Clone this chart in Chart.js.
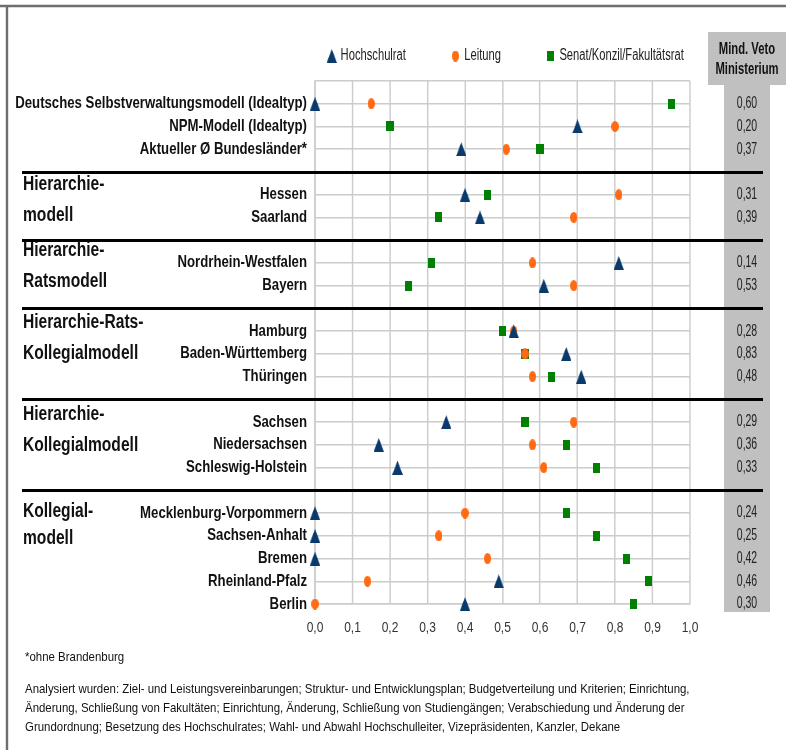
<!DOCTYPE html>
<html><head><meta charset="utf-8">
<script src="https://cdn.jsdelivr.net/npm/chart.js@4.4.0/dist/chart.umd.min.js"></script>
<style>
html,body{margin:0;padding:0;background:#fff;}
#wrap{position:relative;width:786px;height:750px;overflow:hidden;background:#fff;}
canvas{position:absolute;left:0;top:0;}
.note{position:absolute;left:25px;font-family:'Liberation Sans',Arial,sans-serif;font-size:13px;color:#111;white-space:nowrap;line-height:19px;transform:scaleX(0.88);transform-origin:0 0;}
</style></head><body>
<div id="wrap"><canvas id="c" width="983" height="750"></canvas>
<div class="note" style="top:647px">*ohne Brandenburg</div>
<div class="note" style="top:679px">Analysiert wurden: Ziel- und Leistungsvereinbarungen; Struktur- und Entwicklungsplan; Budgetverteilung und Kriterien; Einrichtung,<br>Änderung, Schließung von Fakultäten; Einrichtung, Änderung, Schließung von Studiengängen; Verabschiedung und Änderung der<br>Grundordnung; Besetzung des Hochschulrates; Wahl- und Abwahl Hochschulleiter, Vizepräsidenten, Kanzler, Dekane</div>
</div>
<script>
// ---- data ----
const rowLabels = ['Deutsches Selbstverwaltungsmodell (Idealtyp)','NPM-Modell (Idealtyp)','Aktueller Ø Bundesländer*','',
  'Hessen','Saarland','',
  'Nordrhein-Westfalen','Bayern','',
  'Hamburg','Baden-Württemberg','Thüringen','',
  'Sachsen','Niedersachsen','Schleswig-Holstein','',
  'Mecklenburg-Vorpommern','Sachsen-Anhalt','Bremen','Rheinland-Pfalz','Berlin'];
const hochschulrat = [0.00,0.70,0.39,null, 0.40,0.44,null, 0.81,0.61,null, 0.53,0.67,0.71,null, 0.35,0.17,0.22,null, 0.00,0.00,0.00,0.49,0.40];
const leitung      = [0.15,0.80,0.51,null, 0.81,0.69,null, 0.58,0.69,null, 0.53,0.56,0.58,null, 0.69,0.58,0.61,null, 0.40,0.33,0.46,0.14,0.00];
const senat        = [0.95,0.20,0.60,null, 0.46,0.33,null, 0.31,0.25,null, 0.50,0.56,0.63,null, 0.56,0.67,0.75,null, 0.67,0.75,0.83,0.89,0.85];
const vetoMinisterium = ['0,60','0,20','0,37','', '0,31','0,39','', '0,14','0,53','', '0,28','0,83','0,48','', '0,29','0,36','0,33','', '0,24','0,25','0,42','0,46','0,30'];
const seriesNames = ['Hochschulrat','Leitung','Senat/Konzil/Fakultätsrat'];
const groupNames = [['Hierarchie-','modell'],['Hierarchie-','Ratsmodell'],['Hierarchie-Rats-','Kollegialmodell'],['Hierarchie-','Kollegialmodell'],['Kollegial-','modell']];
const separatorSlots = [3,6,9,13,17];
const vetoHeader = ['Mind. Veto','Ministerium'];
const xMin = 0, xMax = 1, xStep = 0.1;

// ---- styles ----
const LW = 983, LH = 750, K = 786 / LW;   // canvas drawn in a wide space, squeezed horizontally
const X = v => v / K;                      // page px -> logical px
const FONT = "'Liberation Sans',Arial,sans-serif";
const NAVY = '#0a3a6c', ORANGE = '#ff6a12', GREEN = '#008000';
function mk(w,h,fn){const c=document.createElement('canvas');c.width=w;c.height=h;const g=c.getContext('2d');fn(g,w,h);return c;}
const triImg = mk(13,14,(g,w,h)=>{g.fillStyle=NAVY;g.beginPath();g.moveTo(w/2,0);g.lineTo(w,h);g.lineTo(0,h);g.closePath();g.fill();});
const ellImg = mk(9,11,(g,w,h)=>{g.fillStyle=ORANGE;g.beginPath();g.ellipse(w/2,h/2,w/2,h/2,0,0,Math.PI*2);g.fill();});
const sqImg  = mk(9,10,(g,w,h)=>{g.fillStyle=GREEN;g.fillRect(0,0,w,h);});

function toPoints(arr){const out=[];arr.forEach((v,i)=>{if(v!==null)out.push({x:v,y:i});});return out;}
function squeezedText(c, txt, x, y, s){c.save();c.translate(x,y);c.scale(s,1);c.fillText(txt,0,0);c.restore();return c.measureText(txt).width*s;}

const decor = {
  id:'decor',
  beforeDraw(chart){
    const c = chart.ctx, y = chart.scales.y;
    c.save();
    c.fillStyle='#fff';c.fillRect(0,0,chart.width,chart.height);
    c.strokeStyle='#6e6e6e';c.lineWidth=2.5;
    c.beginPath();c.moveTo(0,6);c.lineTo(chart.width,6);c.stroke();
    c.lineWidth=3;c.beginPath();c.moveTo(X(7),6);c.lineTo(X(7),chart.height);c.stroke();
    c.fillStyle='#c0c0c0';
    c.fillRect(X(708),32,chart.width-X(708),53);
    c.fillRect(X(724),85,X(770)-X(724),y.getPixelForValue(22)+8-85);
    c.restore();
  },
  afterDraw(chart){
    const c = chart.ctx, y = chart.scales.y;
    c.save();
    c.textBaseline='middle';
    // legend
    c.font='16px '+FONT;c.textAlign='left';
    let lx = X(327);
    chart.data.datasets.forEach(ds=>{
      const img = ds.pointStyle, bw = 12;
      c.drawImage(img, lx + bw/2 - img.width/2, 56 - img.height/2, img.width, img.height);
      c.fillStyle='#222';
      const w = squeezedText(c, ds.label, lx + bw + 5, 56, 0.875);
      lx += bw + 5 + w + 56;
    });
    // separators
    c.strokeStyle='#000';c.lineWidth=3;
    separatorSlots.forEach(s=>{const py=Math.round(y.getPixelForValue(s))+0.5;c.beginPath();c.moveTo(X(22),py);c.lineTo(X(763),py);c.stroke();});
    // group labels
    const off=[13,10,14,15,21];
    c.fillStyle='#111';c.font='bold 19.5px '+FONT;c.textAlign='left';
    groupNames.forEach((g,i)=>{const base=y.getPixelForValue(separatorSlots[i]);c.fillText(g[0],X(23),base+off[i]);c.fillText(g[1],X(23),base+off[i]+(i===4?27:31));});
    // veto header and values
    c.textAlign='center';
    c.font='bold 16px '+FONT;
    squeezedText(c, vetoHeader[0], X(747), 50, 0.88);
    squeezedText(c, vetoHeader[1], X(747), 70, 0.88);
    c.font='16px '+FONT;c.fillStyle='#222';
    vetoMinisterium.forEach((v,i)=>{if(v)squeezedText(c, v, X(747), y.getPixelForValue(i), 0.82);});
    c.restore();
  }
};

const cv = document.getElementById('c');
const chart = new Chart(cv,{
  type:'scatter',
  data:{datasets:[
    {label:seriesNames[0],data:toPoints(hochschulrat),pointStyle:triImg,backgroundColor:NAVY,borderColor:NAVY,pointRadius:7,clip:false},
    {label:seriesNames[1],data:toPoints(leitung),pointStyle:ellImg,backgroundColor:ORANGE,borderColor:ORANGE,pointRadius:6,clip:false},
    {label:seriesNames[2],data:toPoints(senat),pointStyle:sqImg,backgroundColor:GREEN,borderColor:GREEN,pointRadius:6,clip:false}
  ]},
  options:{
    responsive:false,animation:false,devicePixelRatio:1,
    layout:{padding:{top:81,left:10,right:LW-X(690),bottom:0}},
    plugins:{legend:{display:false},tooltip:{enabled:false}},
    scales:{
      x:{type:'linear',min:xMin,max:xMax,
        ticks:{stepSize:xStep,padding:15,color:'#333',font:{family:FONT,size:15},
          callback:v=>Number(v).toFixed(1).replace('.',',')},
        grid:{color:'#cccccc',lineWidth:1.8,drawTicks:false},
        border:{color:'#cccccc',width:1.5},
        afterFit(s){s.height=146;}
      },
      y:{type:'linear',reverse:true,min:-1,max:22,
        afterBuildTicks(s){const t=[];for(let i=-1;i<=22;i++)t.push({value:i});s.ticks=t;},
        ticks:{autoSkip:false,padding:10,color:'#111',font:{family:FONT,size:16.5,weight:'bold'},
          callback:v=>(v>=0&&rowLabels[v])?rowLabels[v]:''},
        grid:{lineWidth:1.5,drawTicks:false,
          color:ctx=>{const v=ctx.tick?ctx.tick.value:0;return (v<0||rowLabels[v])?'#cccccc':'rgba(0,0,0,0)';}},
        border:{color:'#cccccc',width:1.8},
        afterFit(s){s.width=X(315)-10;}
      }
    }
  },
  plugins:[decor]
});
// squeeze the wide drawing into the 786px page
const dpr = window.devicePixelRatio || 1;
cv.width = Math.round(786*dpr); cv.height = Math.round(750*dpr);
cv.style.width = '786px'; cv.style.height = '750px';
cv.getContext('2d').setTransform(K*dpr,0,0,dpr,0,0);
chart.draw();
</script>
</body></html>
